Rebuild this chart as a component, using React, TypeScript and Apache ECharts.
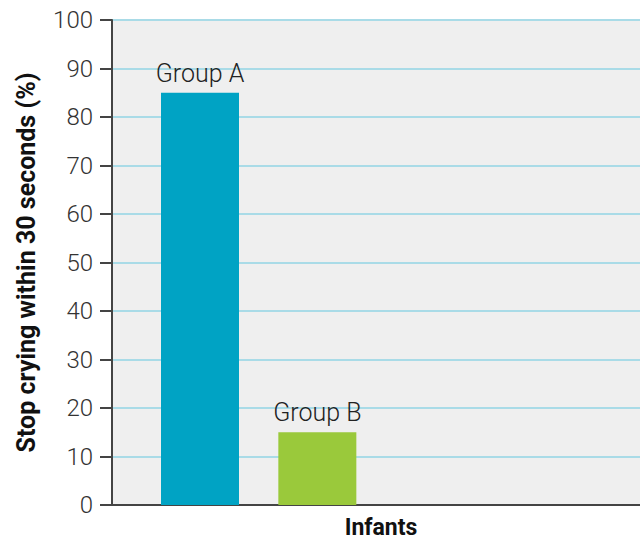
import React, { useEffect, useRef } from "react";
import * as echarts from "echarts";

// category slots along the x axis (bars sit in slots 1 and 3)
const slots = ["", "Group A", "", "Group B", "", "", "", "", ""];
const values: (number | string)[] = ["-", 85, "-", 15, "-", "-", "-", "-", "-"];
const barColors = ["#00a3c4", "#00a3c4", "#9ac93b", "#9ac93b", "#9ac93b", "#9ac93b", "#9ac93b", "#9ac93b", "#9ac93b"];
const yTicks = { min: 0, max: 100, interval: 10 };
const xTitle = "Infants";
const yTitle = "Stop crying within 30 seconds (%)";

export default function App() {
  const ref = useRef<HTMLDivElement>(null);
  useEffect(() => {
    if (!ref.current) return;
    const chart = echarts.init(ref.current, null, { renderer: "svg" });
    chart.setOption({
      animation: false,
      textStyle: { fontFamily: "Roboto" },
      grid: {
        left: 112,
        right: 0,
        top: 20,
        bottom: 37,
        show: true,
        backgroundColor: "#efefef",
        borderWidth: 0,
        containLabel: false,
        outerBoundsMode: "none",
      },
      xAxis: {
        type: "category",
        data: slots,
        name: xTitle,
        nameLocation: "middle",
        nameGap: 12,
        nameTextStyle: { fontSize: 23, lineHeight: 20, fontWeight: "bold", color: "#111", fontFamily: "Roboto", padding: [0, 0, 0, 10] },
        axisLine: { show: true, lineStyle: { color: "#444", width: 2 } },
        axisTick: { show: false },
        axisLabel: { show: false },
        splitLine: { show: false },
      },
      yAxis: {
        type: "value",
        min: yTicks.min,
        max: yTicks.max,
        interval: yTicks.interval,
        name: yTitle,
        nameLocation: "middle",
        nameGap: 73,
        nameRotate: 90,
        nameTextStyle: { fontSize: 25, fontWeight: "bold", color: "#111", fontFamily: "Roboto" },
        axisLine: { show: true, lineStyle: { color: "#444", width: 2 } },
        axisTick: { show: true, length: 12, lineStyle: { color: "#444", width: 2 } },
        axisLabel: { fontSize: 24, fontWeight: 300, color: "#333", margin: 19, fontFamily: "Roboto" },
        splitLine: { show: true, lineStyle: { color: "#a9dbe7", width: 2 } },
      },
      series: [
        {
          type: "bar",
          barWidth: 78,
          data: values.map((v, i) => ({ value: v, itemStyle: { color: barColors[i] } })),
          label: {
            show: true,
            position: "top",
            distance: 7,
            fontSize: 25,
            fontWeight: 300,
            color: "#222",
            fontFamily: "Roboto",
            formatter: (p: any) => slots[p.dataIndex],
          },
        },
      ],
    });
    return () => chart.dispose();
  }, []);
  return <div ref={ref} style={{ width: 640, height: 542, position: "absolute", left: 0, top: 0 }} />;
}
